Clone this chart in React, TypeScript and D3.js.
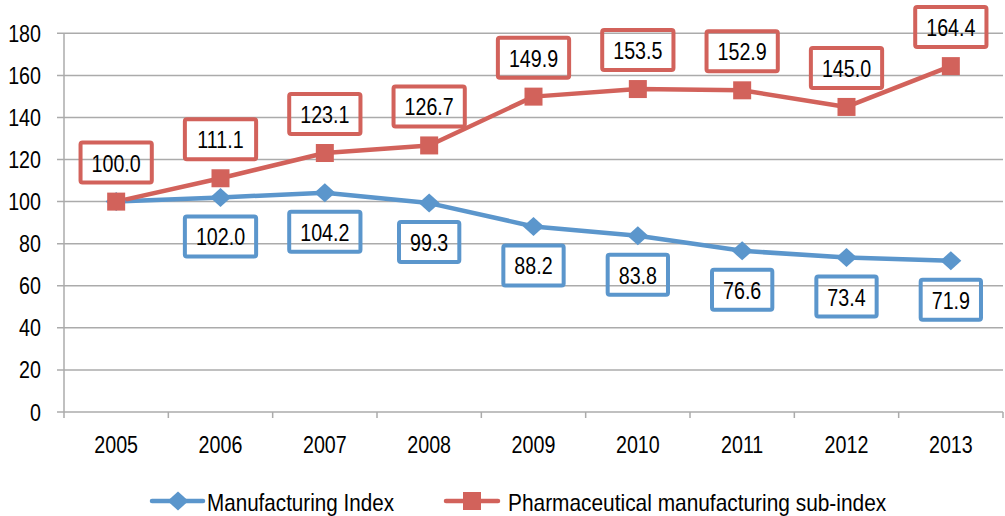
import React from "react";
import * as d3 from "d3";

const years = ["2005", "2006", "2007", "2008", "2009", "2010", "2011", "2012", "2013"];
const manufacturing = [100.0, 102.0, 104.2, 99.3, 88.2, 83.8, 76.6, 73.4, 71.9];
const pharma = [100.0, 111.1, 123.1, 126.7, 149.9, 153.5, 152.9, 145.0, 164.4];
const manufacturingLabelled = [false, true, true, true, true, true, true, true, true];
const yTicks = [0, 20, 40, 60, 80, 100, 120, 140, 160, 180];
const seriesNames = ["Manufacturing Index", "Pharmaceutical manufacturing sub-index"];

const W = 1005;
const H = 516;
const BLUE = "#5b96cc";
const RED = "#d2625b";
const GRID = "#ababab";
const FONT = "'Liberation Sans', Arial, sans-serif";
const SX = 0.82;

const charW = (s: string) => {
  let w = 0;
  for (const c of s) w += c === "." ? 0.228 : 0.456;
  return w * 24;
};

function Txt({
  x,
  y,
  anchor = "start",
  sx = SX,
  size = 24,
  children,
}: {
  x: number;
  y: number;
  anchor?: string;
  sx?: number;
  size?: number;
  children: React.ReactNode;
}) {
  return (
    <g transform={`translate(${x},${y}) scale(${sx},1)`}>
      <text x={0} y={0} textAnchor={anchor as any} fontSize={size} fill="#000" fontFamily={FONT}>
        {children}
      </text>
    </g>
  );
}

export default function App() {
  const x = d3.scaleBand<string>().domain(years).range([64, 1003]).padding(0);
  const y = d3.scaleLinear().domain([0, 180]).range([412, 33.3]);
  const cx = (i: number) => (x(years[i]) as number) + x.bandwidth() / 2;

  const line = d3
    .line<number>()
    .x((_, i) => cx(i))
    .y((d) => y(d));

  const boxes = (vals: number[], dir: number, color: string, show?: boolean[]) =>
    vals.map((v, i) => {
      if (show && !show[i]) return null;
      const txt = v.toFixed(1);
      const bw = charW(txt) + 22;
      const bh = 40;
      const bx = cx(i);
      const by = y(v) + dir * 39;
      return (
        <g key={"b" + color + i}>
          <rect
            x={bx - bw / 2}
            y={by - bh / 2}
            width={bw}
            height={bh}
            rx={2}
            fill="none"
            stroke={color}
            strokeWidth={4}
          />
          <Txt x={bx} y={by + 9} anchor="middle">
            {txt}
          </Txt>
        </g>
      );
    });

  const diamond = (px: number, py: number, k: string) => (
    <path
      key={k}
      d={`M${px},${py - 9.5}L${px + 10.5},${py}L${px},${py + 9.5}L${px - 10.5},${py}Z`}
      fill={BLUE}
    />
  );
  const square = (px: number, py: number, k: string) => (
    <rect key={k} x={px - 9} y={py - 9} width={18} height={18} fill={RED} />
  );

  return (
    <svg
      width={W}
      height={H}
      style={{ position: "absolute", left: 0, top: 0, background: "#fff" }}
      fontFamily={FONT}
    >
      {/* gridlines */}
      {yTicks.map((t) => (
        <g key={"g" + t}>
          <line x1={57} x2={1003} y1={y(t)} y2={y(t)} stroke={GRID} strokeWidth={1.5} />
          <Txt x={41} y={y(t) + 8.5} anchor="end">
            {t}
          </Txt>
        </g>
      ))}
      {/* y axis */}
      <line x1={64} x2={64} y1={33.3} y2={418} stroke={GRID} strokeWidth={1.5} />
      {/* x ticks */}
      {years.map((yr, i) => (
        <g key={"x" + yr}>
          <line
            x1={(x(yr) as number) + x.bandwidth()}
            x2={(x(yr) as number) + x.bandwidth()}
            y1={412}
            y2={418}
            stroke={GRID}
            strokeWidth={1.5}
          />
          <Txt x={cx(i)} y={453} anchor="middle">
            {yr}
          </Txt>
        </g>
      ))}

      {/* series */}
      <path d={line(manufacturing) || ""} fill="none" stroke={BLUE} strokeWidth={4.5} strokeLinejoin="round" />
      <path d={line(pharma) || ""} fill="none" stroke={RED} strokeWidth={4.5} strokeLinejoin="round" />
      {manufacturing.map((v, i) => diamond(cx(i), y(v), "d" + i))}
      {pharma.map((v, i) => square(cx(i), y(v), "s" + i))}

      {boxes(pharma, -1, RED)}
      {boxes(manufacturing, 1, BLUE, manufacturingLabelled)}

      {/* legend */}
      <line x1={152} x2={203} y1={501} y2={501} stroke={BLUE} strokeWidth={4.5} strokeLinecap="round" />
      {diamond(178, 501, "ld")}
      <Txt x={207} y={511} sx={0.86}>
        {seriesNames[0]}
      </Txt>
      <line x1={446} x2={498} y1={501} y2={501} stroke={RED} strokeWidth={4.5} strokeLinecap="round" />
      {square(472, 501, "ls")}
      <Txt x={508} y={511} sx={0.87}>
        {seriesNames[1]}
      </Txt>
    </svg>
  );
}
